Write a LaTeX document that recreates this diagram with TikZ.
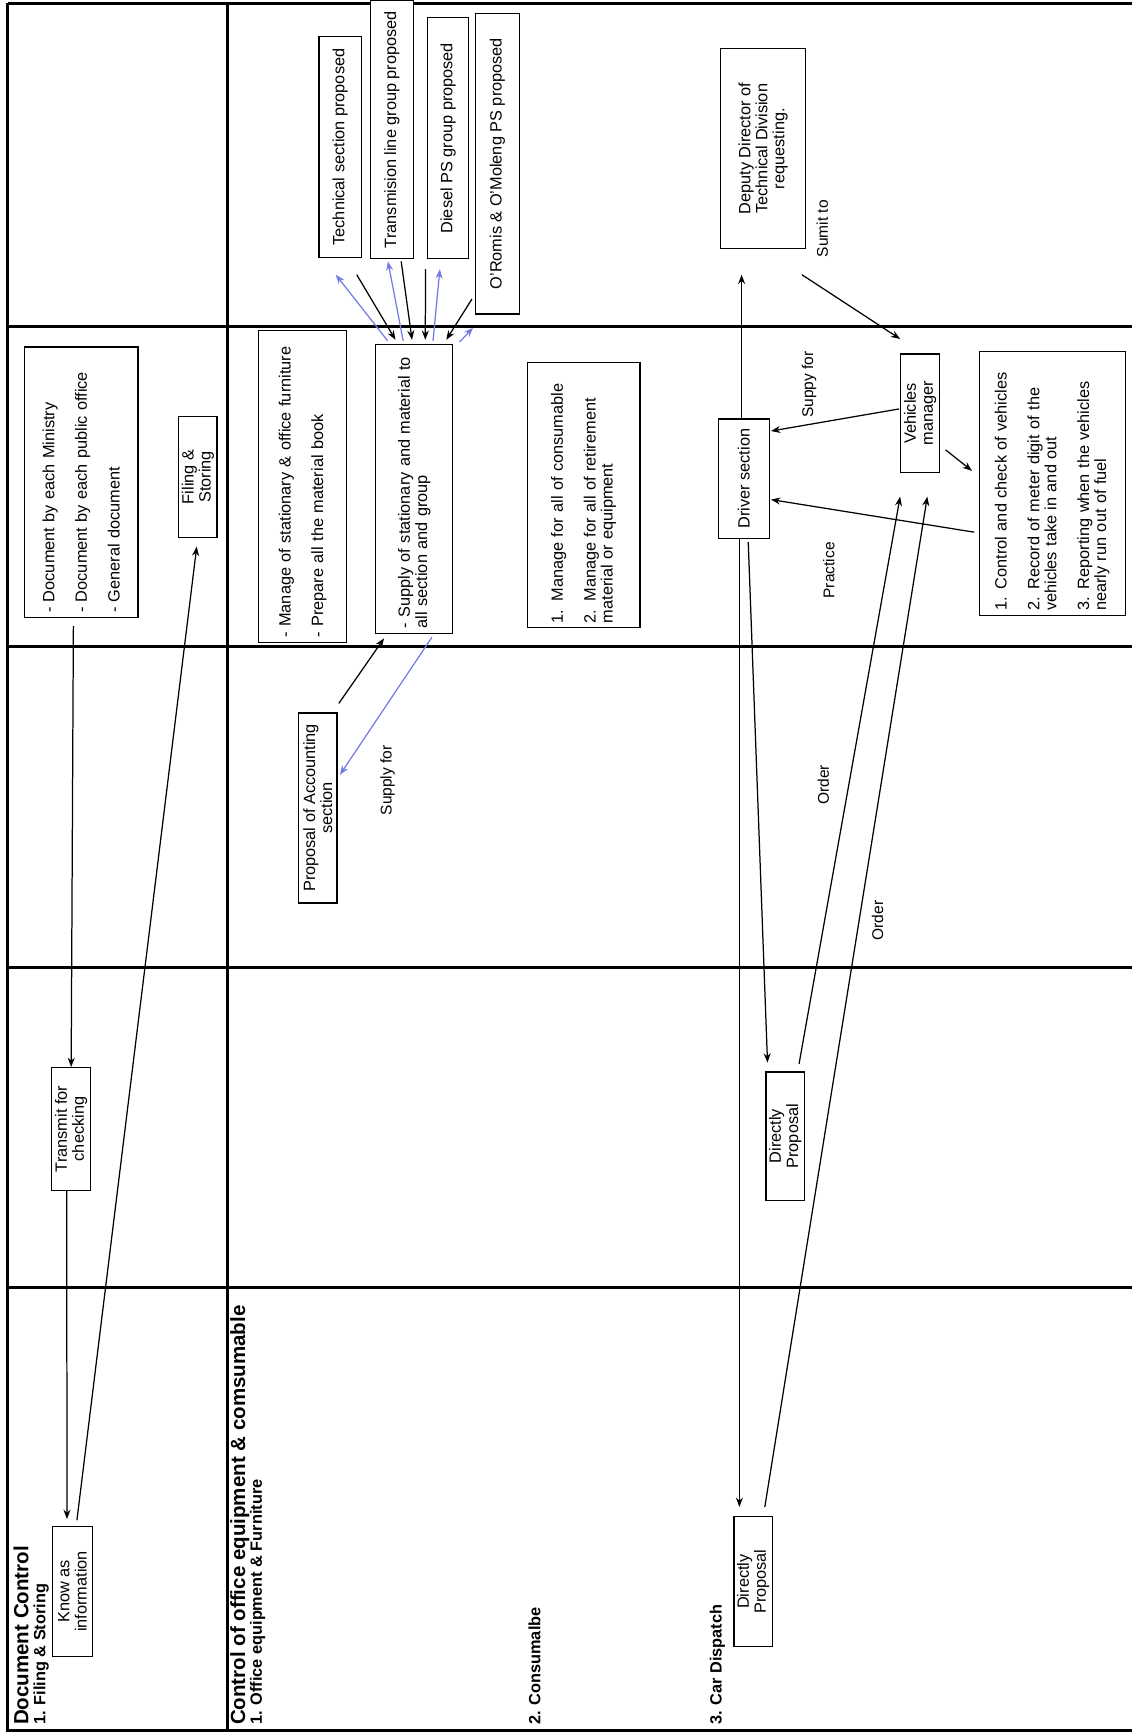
\documentclass[tikz,border=0pt]{standalone}
\usepackage{fontspec}
\setmainfont{Liberation Sans}
\usepackage{xcolor}
\usepackage{tikz}
\usetikzlibrary{
arrows.meta,
calc
}
\definecolor{supplyblue}{RGB}{115,125,225}

\begin{document}
\begin{tikzpicture}[
x=0.025cm,
y=-0.025cm,
lane/.style={line width=1.9pt},
box/.style={
draw,
fill=white,
line width=0.8pt,
rotate=90,
inner xsep=3pt,
inner ysep=2pt,
align=center,
font=\fontsize{10.5}{11}\selectfont
},
boxsize/.style 2 args={minimum height={#1*0.025cm},minimum width={#2*0.025cm}},
edgetext/.style={rotate=90,inner sep=0pt,font=\fontsize{10}{12}\selectfont},
lanetitle/.style={rotate=90,anchor=north west,inner sep=0pt,font=\fontsize{13.2}{16}\selectfont\bfseries},
subtitle/.style={rotate=90,anchor=north west,inner sep=0pt,font=\fontsize{10.5}{12}\selectfont\bfseries},
arrow/.style={-{Stealth[length=6pt,width=4.5pt]},line width=0.8pt},
supplyarrow/.style={arrow,draw=supplyblue}
]

\useasboundingbox (0,0) rectangle (1024,1568);

\draw[lane] (7,3) -- (1024,3);
\draw[lane] (7,3) -- (7,1566) -- (1024,1566);
\draw[lane] (206,3) -- (206,1566);
\foreach \y in {295,585,875,1165}
  \draw[lane] (7,\y) -- (1024,\y);

\node[lanetitle] (doctitle) at (12,1561) {Document Control};
\node[subtitle] (filingtitle) at (30,1561) {1. Filing \& Storing};
\node[lanetitle] (ctrltitle) at (208,1561) {Control of office equipment \& comsumable};
\node[subtitle] (furntitle) at (226,1561) {1. Office equipment \& Furniture};
\node[subtitle] (consumtitle) at (478,1561) {2. Consumalbe};
\node[subtitle] (cartitle) at (642,1561) {3. Car Dispatch};

\node[box,boxsize={103}{245},align=left,text width=5.9cm] (docs) at (73.4,436.5)
  {- Document by each Ministry\\[10pt] - Document by each public office\\[10pt] - General document};
\node[box,boxsize={34}{109}] (filing) at (179,431.5) {Filing \&\\ Storing};
\node[box,boxsize={35}{111}] (transmit) at (64.4,1021.5) {Transmit for\\ checking};
\node[box,boxsize={36}{118}] (know) at (65.6,1440) {Know as\\ information};

\node[box,boxsize={38.5}{200}] (tech) at (307.8,133) {Technical section proposed};
\node[box,boxsize={39}{233.5}] (trans) at (354.5,117.2) {Transmision line group proposed};
\node[box,boxsize={37}{218}] (diesel) at (405.5,125) {Diesel PS group proposed};
\node[box,boxsize={40}{272}] (oromis) at (450,148) {O'Romis \& O'Moleng PS proposed};
\node[box,boxsize={77}{181}] (deputy) at (690.5,134.5) {Deputy Director of\\ Technical Division\\ requesting.};

\node[box,boxsize={80}{282},align=left,text width=6.84cm] (manage) at (273.8,440)
  {- Manage of stationary \& office furniture\\[10pt] - Prepare all the material book};
\node[box,boxsize={69.5}{261},align=left,text width=6.3cm] (supply) at (374.8,442.5)
  {- Supply of stationary and material to\\ all section and group};
\node[box,boxsize={102}{240},align=left,text width=5.79cm] (consum) at (528,448)
  {1. Manage for all of consumable\\[10pt] 2. Manage for all of retirement\\ material or equipment};
\node[box,boxsize={46}{108}] (driver) at (673,433) {Driver section};
\node[box,boxsize={35}{107.5}] (vehicles) at (832.5,374) {Vehicles\\ manager};
\node[box,boxsize={132}{239},align=left,text width=5.76cm] (control) at (952,437.5)
  {1. Control and check of vehicles\\[10pt] 2. Record of meter digit of the\\ vehicles take in and out\\[10pt] 3. Reporting when the vehicles\\ nearly run out of fuel};

\node[box,boxsize={35}{172}] (proposal) at (287.5,731) {Proposal of Accounting\\ section};
\node[box,boxsize={35}{116}] (direct1) at (710.5,1028) {Directly\\ Proposal};
\node[box,boxsize={35}{118}] (direct2) at (681.5,1431) {Directly\\ Proposal};

\node[edgetext] (sumit) at (744,207) {Sumit to};
\node[edgetext] (suppyfor) at (732,348) {Suppy for};
\node[edgetext] (practice) at (750,516) {Practice};
\node[edgetext] (order1) at (745,710) {Order};
\node[edgetext] (order2) at (794,833) {Order};
\node[edgetext] (supplyfor) at (350.6,706) {Supply for};

\draw[arrow] ($(docs.west)+(-7,7)$) -- (transmit.east);
\draw[arrow] ($(transmit.west)+(-4,0)$) -- ($(know.east)+(-5,-6)$);
\draw[arrow] ($(know.east)+(4,-5)$) -- ($(filing.west)+(-1,8)$);

\draw[arrow] ($(tech.west)+(15,15)$) -- ($(supply.east)+(-17,-4)$);
\draw[arrow] ($(trans.west)+(8.5,2)$) -- ($(supply.east)+(-2,-4)$);
\draw[arrow] ($(diesel.west)+(-20.5,9)$) -- ($(supply.east)+(10,-4)$);
\draw[arrow] ($(oromis.west)+(-23,-14)$) -- ($(supply.east)+(29,-4)$);
\draw[supplyarrow] ($(supply.east)+(-24,-3)$) -- ($(tech.west)+(-4,15)$);
\draw[supplyarrow] ($(supply.east)+(-10,-3)$) -- ($(trans.west)+(-3.5,2)$);
\draw[supplyarrow] ($(supply.east)+(17,-3)$) -- ($(diesel.west)+(-7.5,9)$);
\draw[supplyarrow] ($(supply.east)+(41,-2)$) -- ($(oromis.west)+(-22,12)$);

\draw[arrow] ($(proposal.south east)+(1,-8)$) -- ($(supply.north west)+(8,4)$);
\draw[supplyarrow] ($(supply.west)+(16,3)$) -- ($(proposal.south)+(2,-30)$);

\draw[arrow] ($(deputy.south west)+(-4,23)$) -- ($(vehicles.north east)+(0,-13)$);
\draw[arrow] ($(driver.east)+(-2,0)$) -- ($(deputy.west)+(-19.5,23)$);
\draw[arrow] ($(vehicles.north)+(-1,-4)$) -- ($(driver.south)+(1,-43)$);
\draw[arrow] ($(vehicles.south)+(5,33)$) -- ($(control.north)+(-6,-11.5)$);
\draw[arrow] ($(control.north)+(-4,44)$) -- ($(driver.south)+(1,19)$);

\draw[arrow] ($(driver.west)+(-4,0)$) -- ($(direct2.east)+(-12.5,-8)$);
\draw[arrow] ($(driver.west)+(4,3)$) -- ($(direct1.north east)+(2,-8)$);
\draw[arrow] ($(direct1.east)+(12.5,-7)$) -- ($(vehicles.north west)+(0,21)$);
\draw[arrow] ($(direct2.east)+(10.5,-8)$) -- ($(vehicles.west)+(6.5,21)$);

\end{tikzpicture}
\end{document}
